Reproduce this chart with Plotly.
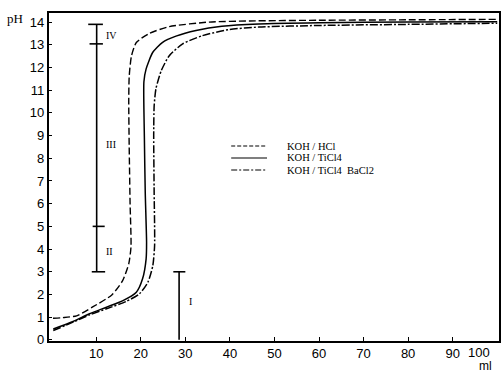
import plotly.graph_objects as go

# Titration curves: pH versus added KOH volume (ml)
hcl_ml = [0.3, 2.5, 5.6, 9.2, 13.5, 15.9, 17.3, 17.8, 17.6, 17.4, 17.3, 17.4, 17.9, 19.0, 21.9, 26.4, 35.3, 44.3, 60, 80, 100]
hcl_ph = [0.95, 0.98, 1.06, 1.45, 1.98, 2.6, 3.35, 4.1, 6.0, 8.5, 10.5, 11.6, 12.5, 13.1, 13.5, 13.8, 14.0, 14.05, 14.08, 14.1, 14.12]

ticl4_ml = [0.36, 4.8, 8.5, 12.3, 16.0, 19.0, 20.4, 21.2, 21.3, 21.0, 20.8, 20.7, 21.2, 22.7, 24.9, 27.9, 32.4, 38.2, 46.5, 60, 80, 100]
ticl4_ph = [0.48, 0.81, 1.15, 1.44, 1.73, 2.1, 2.69, 3.57, 4.3, 6.5, 9.0, 11.37, 11.94, 12.67, 13.11, 13.38, 13.63, 13.82, 13.92, 13.97, 14.0, 14.02]

bacl2_ml = [0.36, 4.8, 8.5, 12.3, 16.7, 19.7, 21.6, 22.7, 23.1, 23.0, 22.9, 23.0, 23.4, 24.6, 26.4, 29.4, 33.8, 39.8, 46.5, 60, 80, 100]
bacl2_ph = [0.41, 0.78, 1.1, 1.37, 1.69, 2.03, 2.54, 3.27, 4.15, 6.5, 9.0, 10.3, 11.06, 11.86, 12.52, 13.04, 13.4, 13.67, 13.78, 13.85, 13.9, 13.95]

series_names = ["KOH / HCl", "KOH / TiCl4", "KOH / TiCl4  BaCl2"]

# Range bars: position, lower and upper pH, cross-bars (pH, left ml, right ml)
bar_x = [10.1, 28.6]
bar_low = [3.0, 0.0]
bar_high = [13.9, 3.0]
bar_caps = [
    [(3.0, 9.0, 12.0), (5.0, 9.2, 11.9), (13.04, 8.5, 11.5), (13.9, 8.2, 11.5)],
    [(3.0, 27.3, 30.0)],
]
region_labels = ["IV", "III", "II", "I"]
region_x = [11.7, 11.7, 11.7, 30.4]
region_y = [13.4, 8.6, 3.9, 1.7]

x_ticks = [10, 20, 30, 40, 50, 60, 70, 80, 90]
x_last_tick = 100
y_ticks = list(range(0, 15))

W, H = 502, 372
L, R, T, B = 49, 1, 13, 31
PW, PH = W - L - R, H - T - B


def px_to_paper(px, py):
    return (px - L) / PW, (H - B - py) / PH


fig = go.Figure()

styles = [
    dict(color="black", width=1.4, dash="7px,3px"),
    dict(color="black", width=1.5),
    dict(color="black", width=1.5, dash="8px,2px,2px,2px"),
]
for xs, ys, st, name in zip([hcl_ml, ticl4_ml, bacl2_ml],
                            [hcl_ph, ticl4_ph, bacl2_ph], styles, series_names):
    fig.add_trace(go.Scatter(x=xs, y=ys, mode="lines", line=dict(shape="spline", smoothing=0.6, **st),
                             name=name, showlegend=False, hoverinfo="skip"))

# range bars with cross-bars
for bx, lo, hi, caps in zip(bar_x, bar_low, bar_high, bar_caps):
    xs, ys = [bx, bx], [lo, hi]
    for cy, cx0, cx1 in caps:
        xs += [None, cx0, cx1]
        ys += [None, cy, cy]
    fig.add_trace(go.Scatter(x=xs, y=ys, mode="lines", line=dict(color="black", width=1.6),
                             showlegend=False, hoverinfo="skip"))

for lab, lx, ly in zip(region_labels, region_x, region_y):
    fig.add_annotation(x=lx, y=ly, text=lab, showarrow=False, xanchor="left",
                       font=dict(family="Liberation Serif", size=10, color="black"))

# hand-drawn legend block
legend_rows_py = [146, 158, 170]
legend_dash = ["4px,2px", "solid", "6px,2px,2px,2px"]
for py, dash, name in zip(legend_rows_py, legend_dash, series_names):
    x0, y0 = px_to_paper(232, py)
    x1, _ = px_to_paper(268, py)
    fig.add_shape(type="line", xref="paper", yref="paper", x0=x0, x1=x1, y0=y0, y1=y0,
                  line=dict(color="black", width=1.2, dash=dash))
    tx, _ = px_to_paper(286, py)
    fig.add_annotation(xref="paper", yref="paper", x=tx, y=y0, text=name, showarrow=False,
                       xanchor="left", yanchor="middle",
                       font=dict(family="Liberation Serif", size=10.5, color="black"))

tick_font = dict(family="Liberation Sans", size=13, color="black")

# axis captions and the last x tick label, tucked inside the right edge
ax, ay = px_to_paper(25, 18)
fig.add_annotation(xref="paper", yref="paper", x=ax, y=ay, text="pH", showarrow=False,
                   xanchor="right", yanchor="middle",
                   font=dict(family="Liberation Serif", size=13, color="black"))
lx, ly = px_to_paper(494, 343)
fig.add_annotation(xref="paper", yref="paper", x=lx, y=ly, text=str(x_last_tick), showarrow=False,
                   xanchor="right", yanchor="top", font=tick_font)
mx, my = px_to_paper(487, 366)
fig.add_annotation(xref="paper", yref="paper", x=mx, y=my, text="ml", showarrow=False,
                   xanchor="center", yanchor="middle",
                   font=dict(family="Liberation Sans", size=12, color="black"))

fig.update_xaxes(range=[-0.6, 100.4], tickvals=x_ticks, ticktext=[str(v) for v in x_ticks],
                 ticks="inside", ticklen=4, tickcolor="black", showgrid=False, zeroline=False,
                 showline=True, linecolor="black", linewidth=1.6, mirror=True, tickfont=tick_font)
fig.update_yaxes(range=[-0.05, 14.4], tickvals=y_ticks, ticktext=[str(v) for v in y_ticks],
                 ticks="inside", ticklen=3, tickcolor="black", showgrid=False, zeroline=False,
                 showline=True, linecolor="black", linewidth=2.4, mirror=True, tickfont=tick_font)

fig.update_layout(width=W, height=H, margin=dict(l=L, r=R, t=T, b=B),
                  paper_bgcolor="white", plot_bgcolor="white", showlegend=False)

fig.write_html("out.html")
